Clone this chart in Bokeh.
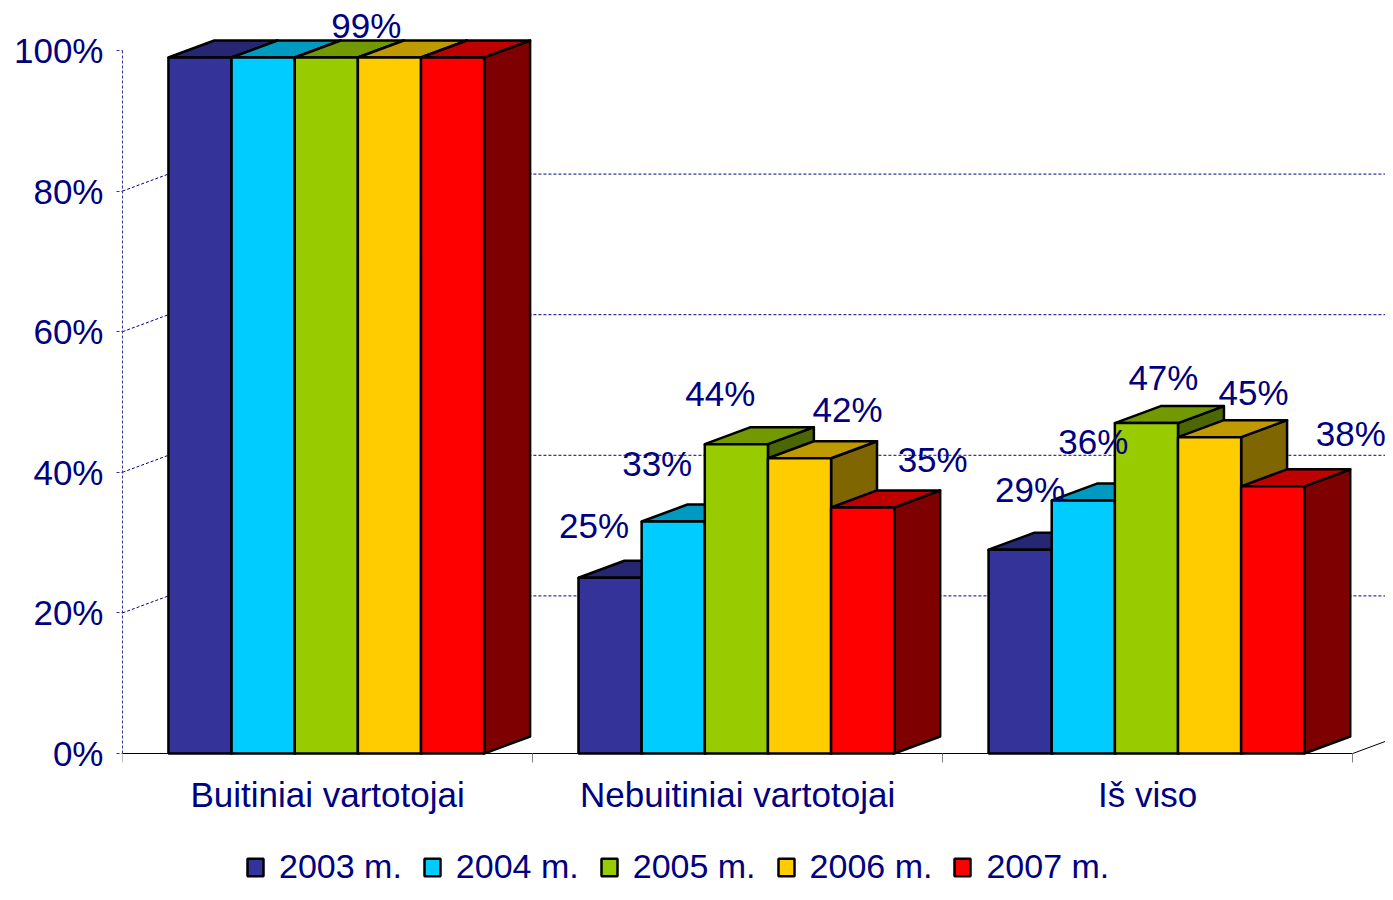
from bokeh.plotting import figure
from bokeh.models import FixedTicker, LinearAxis, Range1d, PrintfTickFormatter
from bokeh.embed import file_html
from bokeh.resources import INLINE
from bokeh.core.properties import value

# ---------------- data ----------------
categories = ["Buitiniai vartotojai", "Nebuitiniai vartotojai", "Iš viso"]
years = ["2003 m.", "2004 m.", "2005 m.", "2006 m.", "2007 m."]
v2003 = [99, 25, 29]
v2004 = [99, 33, 36]
v2005 = [99, 44, 47]
v2006 = [99, 42, 45]
v2007 = [99, 35, 38]
series = [v2003, v2004, v2005, v2006, v2007]
y_ticks = [0, 20, 40, 60, 80, 100]
grid_values = [20, 40, 60, 80]

# which bars carry a value label (group, series)
labelled = [(0, 2), (1, 0), (1, 1), (1, 2), (1, 3), (1, 4),
            (2, 0), (2, 1), (2, 2), (2, 3), (2, 4)]

# ---------------- style ----------------
colors = ["#333399", "#00CCFF", "#99CC00", "#FFCC00", "#FF0000"]
NAVY = "#000080"
FONT = "Liberation Sans"
FS = "35px"
# label pixel offsets from the front-top centre of the bar (screen px)
label_dx = [40, -16, -16, -16, 48, 70, 10, 10, 17, 44, 78]
label_dy = [-32, -52, -58, -51, -49, -48, -60, -59, -46, -45, -53]

BAR_START = 0.112   # offset of first bar inside a category
BAR_W = 0.154       # bar width (category units)
DEPTH_X = 0.112     # 3-D depth, x (category units)
DEPTH_Y = 2.42      # 3-D depth, y (percent units)
X_END = 3.08


def shade(hexcol, f):
    h = hexcol.lstrip("#")
    r, g, b = (int(h[i:i + 2], 16) for i in (0, 2, 4))
    return "#%02x%02x%02x" % (int(r * f), int(g * f), int(b * f))


p = figure(width=1385, height=884,
           x_range=Range1d(0, X_END), y_range=Range1d(-18.63, 107.11),
           output_backend="svg", toolbar_location=None,
           x_axis_location=None,
           min_border_left=122, min_border_right=0,
           min_border_top=0, min_border_bottom=0)
p.outline_line_color = None
p.xgrid.visible = False
p.ygrid.visible = False
p.background_fill_color = "white"

# ---------- back wall gridlines ----------
gx0, gy0, gx1, gy1 = [], [], [], []
for gv in grid_values:
    gx0 += [0, DEPTH_X]
    gy0 += [gv, gv + DEPTH_Y]
    gx1 += [DEPTH_X, X_END]
    gy1 += [gv + DEPTH_Y, gv + DEPTH_Y]
p.segment(gx0, gy0, gx1, gy1, line_color=NAVY, line_width=1, line_dash="3 2")

# floor right edge
p.segment([3], [0], [3 + DEPTH_X], [DEPTH_Y], line_color="black", line_width=1)

# ---------- 3-D bars ----------
geo = []
for s, vals in enumerate(series):
    lefts = [g + BAR_START + s * BAR_W for g in range(len(categories))]
    rights = [l + BAR_W for l in lefts]
    geo.append((lefts, rights, vals))

# sides
for s, (lefts, rights, vals) in enumerate(geo):
    xs = [[r, r + DEPTH_X, r + DEPTH_X, r] for r in rights]
    ys = [[0, DEPTH_Y, v + DEPTH_Y, v] for v in vals]
    p.patches(xs, ys, fill_color=shade(colors[s], 0.5), line_color="black",
              line_width=2.5, line_join="round")
# tops
for s, (lefts, rights, vals) in enumerate(geo):
    xs = [[l, l + DEPTH_X, r + DEPTH_X, r] for l, r in zip(lefts, rights)]
    ys = [[v, v + DEPTH_Y, v + DEPTH_Y, v] for v in vals]
    p.patches(xs, ys, fill_color=shade(colors[s], 0.75), line_color="black",
              line_width=2.5, line_join="round")
# fronts
for s, (lefts, rights, vals) in enumerate(geo):
    p.quad(left=lefts, right=rights, bottom=[0] * len(vals), top=vals,
           fill_color=colors[s], line_color="black", line_width=2.5,
           legend_label=years[s])

# ---------- value labels ----------
lx, ly, lt = [], [], []
for (g, s) in labelled:
    lefts, rights, vals = geo[s]
    lx.append((lefts[g] + rights[g]) / 2)
    ly.append(vals[g])
    lt.append(f"{vals[g]}%")
p.text(x=lx, y=ly, text=lt, x_offset=label_dx, y_offset=label_dy,
       text_font=value(FONT), text_font_size=FS, text_color=NAVY,
       text_align="center", text_baseline="middle")

# ---------- y axis ----------
ya = p.yaxis[0]
ya.ticker = FixedTicker(ticks=y_ticks, minor_ticks=[])
ya.formatter = PrintfTickFormatter(format="%d%%")
ya.bounds = (0, 100)
ya.axis_line_color = "#333399"
ya.axis_line_dash = "3 2"
ya.axis_line_width = 1
ya.major_tick_line_color = "#333399"
ya.major_tick_line_dash = "3 2"
ya.major_tick_out = 6
ya.major_tick_in = 0
ya.minor_tick_line_color = None
ya.major_label_standoff = 13
ya.major_label_text_font = FONT
ya.major_label_text_font_size = FS
ya.major_label_text_color = NAVY

# ---------- x axis (category) ----------
xa = LinearAxis(fixed_location=0,
                ticker=FixedTicker(ticks=[0.5, 1.5, 2.5], minor_ticks=[0, 1, 2, 3]),
                bounds=(0, 3))
xa.major_label_overrides = {0.5: categories[0], 1.5: categories[1], 2.5: categories[2]}
xa.axis_line_color = "black"
xa.axis_line_width = 1
xa.major_tick_line_color = None
xa.major_tick_out = 0
xa.major_tick_in = 0
xa.minor_tick_line_color = "#808080"
xa.minor_tick_out = 9
xa.minor_tick_in = 0
xa.major_label_standoff = 12
xa.major_label_text_font = FONT
xa.major_label_text_font_size = FS
xa.major_label_text_color = NAVY
p.add_layout(xa, "below")

# ---------- legend ----------
lg = p.legend[0]
lg.orientation = "horizontal"
lg.location = (123, -2)
lg.label_text_font = FONT
lg.label_text_font_size = "34px"
lg.label_text_color = NAVY
lg.glyph_width = 20
lg.glyph_height = 22
lg.label_standoff = 14
lg.spacing = 20
lg.padding = 0
lg.margin = 0
lg.border_line_color = None
lg.background_fill_alpha = 0

open("out.html", "w").write(file_html(p, INLINE))
